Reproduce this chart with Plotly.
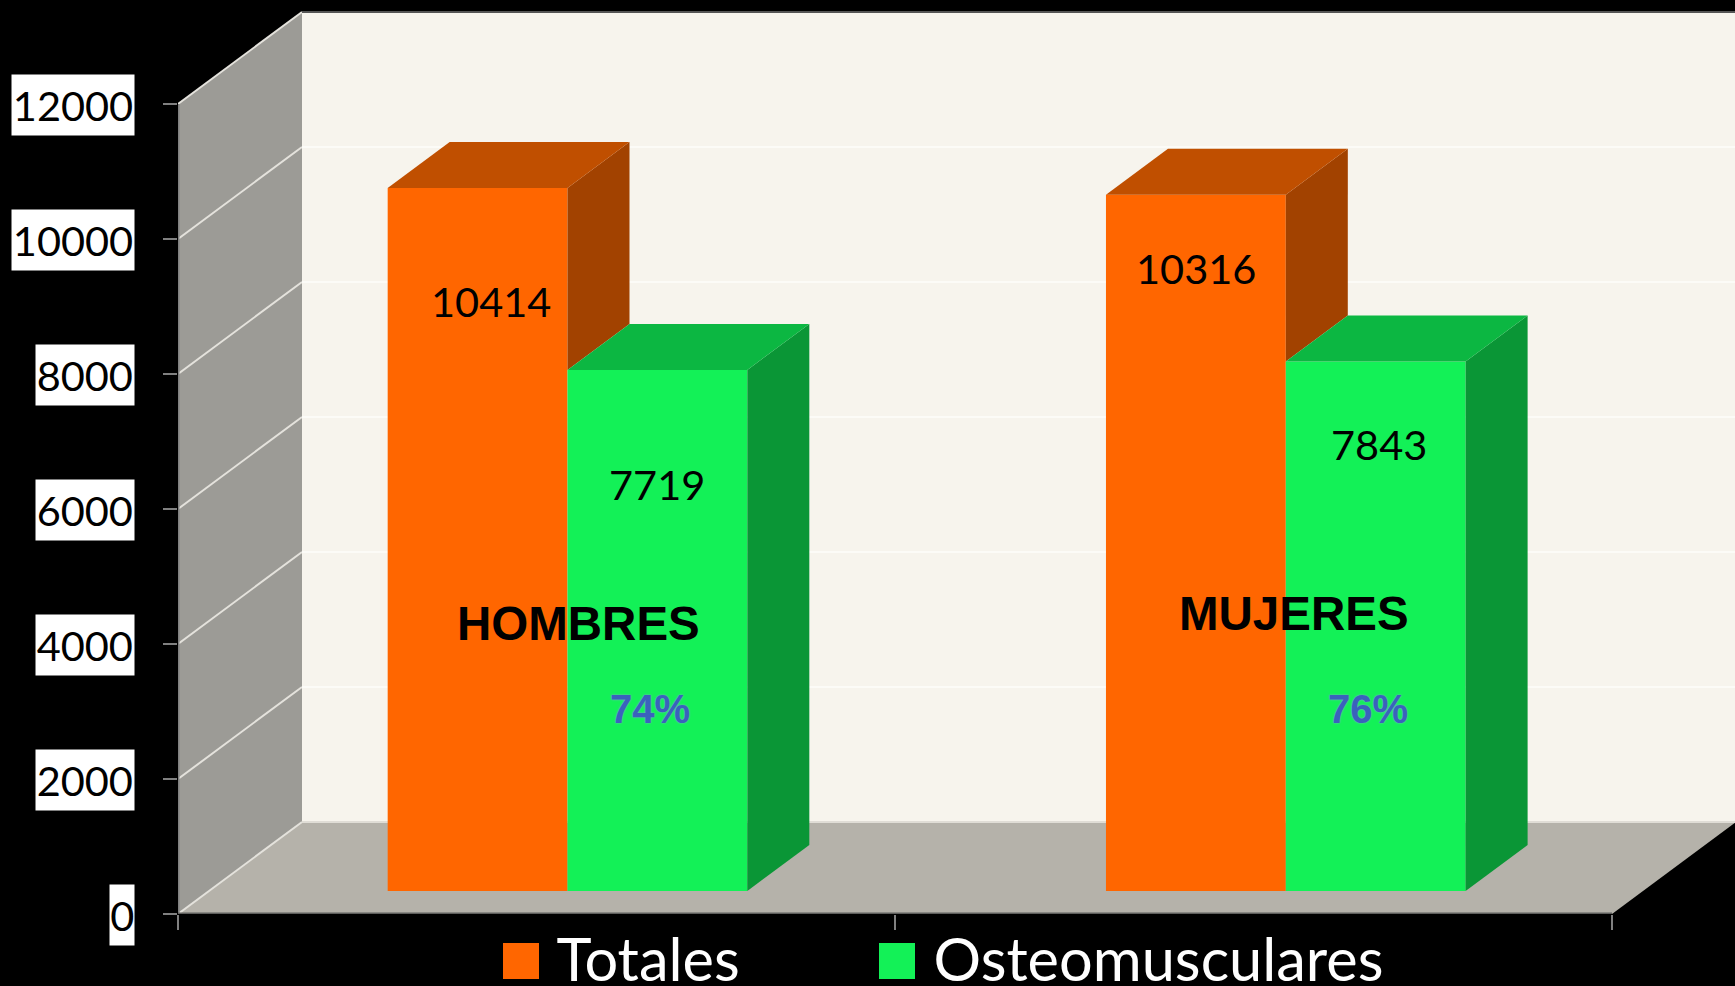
import plotly.graph_objects as go

# ---- data ----
categories = ["HOMBRES", "MUJERES"]
percentages = ["74%", "76%"]
series_names = ["Totales", "Osteomusculares"]
totales = [10414, 10316]
osteomusculares = [7719, 7843]
y_ticks = [0, 2000, 4000, 6000, 8000, 10000, 12000]

# ---- style / layout ----
W, H = 1735, 986
M_L, M_R, M_T, M_B = 178, 0, 11, 72
PX_PER_CAT = 717.0
PX_PER_VAL = 0.0675
X_MAX = (W - M_L - M_R) / PX_PER_CAT
Y_MAX = (H - M_T - M_B) / PX_PER_VAL
DEPTH_X = 124 / PX_PER_CAT
DEPTH_Y = 92 / PX_PER_VAL
BAR_W = 0.2508
GROUP_NUDGE = [0.0, 0.0018]
D0, D1 = 0.25, 0.75

BG = "#000000"
WALL_BACK = "#f7f4ed"
WALL_SIDE = "#9c9b96"
FLOOR = "#b5b2aa"
GRID_BACK = "#fcfbf7"
GRID_SIDE = "#e4e2dc"
AXIS = "#808080"
colors_front = ["#ff6600", "#13f157"]
colors_top = ["#c04f00", "#0cb742"]
colors_side = ["#a24200", "#0a9636"]

FONT = "Lato"
BOLD = "Liberation Sans"


def proj(x, v, d):
    return x + d * DEPTH_X, v + d * DEPTH_Y


def path(points):
    return "M " + " L ".join(f"{x},{y}" for x, y in points) + " Z"


def face(points, color):
    xs = [p[0] for p in points] + [points[0][0]]
    ys = [p[1] for p in points] + [points[0][1]]
    return go.Scatter(x=xs, y=ys, mode="lines", fill="toself", fillcolor=color,
                      line=dict(width=0, color=color), hoverinfo="skip", showlegend=False)


def bar_left(i, s):
    return i + 0.5 + GROUP_NUDGE[i] - BAR_W + s * BAR_W


n_cat = len(categories)
top_val = y_ticks[-1]
shapes = []
# room: back wall, side wall, floor
shapes.append(dict(type="path", layer="below", xref="x", yref="y", line=dict(width=0), fillcolor=WALL_BACK,
                   path=path([proj(0, 0, 1), proj(n_cat, 0, 1), proj(n_cat, top_val, 1), proj(0, top_val, 1)])))
shapes.append(dict(type="path", layer="below", xref="x", yref="y", line=dict(width=0), fillcolor=WALL_SIDE,
                   path=path([proj(0, 0, 0), proj(0, 0, 1), proj(0, top_val, 1), proj(0, top_val, 0)])))
shapes.append(dict(type="path", layer="below", xref="x", yref="y", line=dict(width=0), fillcolor=FLOOR,
                   path=path([proj(0, 0, 0), proj(n_cat, 0, 0), proj(n_cat, 0, 1), proj(0, 0, 1)])))
# gridlines
for t in y_ticks:
    x0, y0 = proj(0, t, 0)
    x1, y1 = proj(0, t, 1)
    shapes.append(dict(type="line", layer="below", xref="x", yref="y", x0=x0, y0=y0, x1=x1, y1=y1,
                       line=dict(color=GRID_SIDE, width=2)))
    x2, y2 = proj(n_cat, t, 1)
    if t == top_val:
        back = "#555555"
    elif t == 0:
        back = "#e0ddd6"
    else:
        back = GRID_BACK
    shapes.append(dict(type="line", layer="below", xref="x", yref="y", x0=x1, y0=y1, x1=x2, y1=y2,
                       line=dict(color=back, width=2)))
# axis lines along the front of the room
shapes.append(dict(type="line", layer="below", xref="x", yref="y", x0=0, y0=0, x1=0, y1=top_val,
                   line=dict(color=AXIS, width=3)))
shapes.append(dict(type="line", layer="below", xref="x", yref="y", x0=0, y0=0, x1=n_cat, y1=0,
                   line=dict(color="#5e5e5c", width=3)))

fig = go.Figure()
series = [totales, osteomusculares]
base_x, base_y = proj(0, 0, D0)

# front faces: real bars standing on the floor
for s, (name, vals) in enumerate(zip(series_names, series)):
    centers = [bar_left(i, s) + BAR_W / 2 + base_x for i in range(n_cat)]
    fig.add_trace(go.Bar(x=centers, y=vals, base=base_y, width=BAR_W, name=name,
                         marker=dict(color=colors_front[s], line=dict(width=0)), showlegend=False))

# top and side faces
for i in range(n_cat):
    for s, vals in enumerate(series):
        xr = bar_left(i, s) + BAR_W
        v = vals[i]
        # the lower edge of a side face stops where the neighbouring bar hides it
        low = series[s + 1][i] if s + 1 < len(series) else 0
        fig.add_trace(face([proj(xr, v, D0), proj(xr, v, D1), proj(xr, low, D1), proj(xr, low, D0)], colors_side[s]))
    for s, vals in enumerate(series):
        xl = bar_left(i, s)
        xr = xl + BAR_W
        v = vals[i]
        fig.add_trace(face([proj(xl, v, D0), proj(xr, v, D0), proj(xr, v, D1), proj(xl, v, D1)], colors_top[s]))

annotations = []
# y tick labels on white boxes
for t in y_ticks:
    label = str(t)
    annotations.append(dict(x=0, y=t, xref="x", yref="y", text=label, showarrow=False, xanchor="right",
                            xshift=-43, yshift=-1, bgcolor="#ffffff", height=60, width=24.4 * len(label),
                            valign="middle", align="center", borderpad=0,
                            font=dict(family=FONT, size=41.5, color="#000000")))

# value labels (hand placed in the original, shift from the bar top)
label_shift_x = [[13, 0], [0, 3]]
label_shift_y = [[-113, -114], [-73, -82]]
for i in range(n_cat):
    for s, vals in enumerate(series):
        xc = bar_left(i, s) + BAR_W / 2 + base_x
        annotations.append(dict(x=xc, y=vals[i] + base_y, xref="x", yref="y", text=str(vals[i]), showarrow=False,
                                xshift=label_shift_x[i][s], yshift=label_shift_y[i][s],
                                font=dict(family=FONT, size=41.5, color="#000000")))

# group and percentage labels
cat_x = [0.558, 1.557]
cat_y = [4311, 4459]
pct_x = [0.658, 1.66]
pct_y = [3040, 3040]
for i in range(n_cat):
    annotations.append(dict(x=cat_x[i], y=cat_y[i], xref="x", yref="y", text=f"<b>{categories[i]}</b>", showarrow=False,
                            font=dict(family=BOLD, size=47.5, color="#000000")))
    annotations.append(dict(x=pct_x[i], y=pct_y[i], xref="x", yref="y", text=f"<b>{percentages[i]}</b>", showarrow=False,
                            font=dict(family=BOLD, size=40, color="#3a62bc", shadow="0 0 2px #88a4e4")))

# legend: a page-sized invisible subplot over the chart, in page pixels
leg_box_x = [521, 897]
leg_box_y = 961
leg_text_x = [556.5, 933.5]
leg_text_y = 966.5
for s, name in enumerate(series_names):
    fig.add_trace(go.Scatter(x=[leg_box_x[s]], y=[leg_box_y], xaxis="x2", yaxis="y2", mode="markers",
                             showlegend=False, hoverinfo="skip",
                             marker=dict(symbol="square", size=36, color=colors_front[s], line=dict(width=0))))
    fig.add_trace(go.Scatter(x=[leg_text_x[s]], y=[leg_text_y], xaxis="x2", yaxis="y2", mode="text", text=[name],
                             textposition="middle right", cliponaxis=False, showlegend=False, hoverinfo="skip",
                             textfont=dict(family=FONT, size=59.5, color="#ffffff")))

fig.update_layout(
    width=W, height=H, autosize=False,
    margin=dict(l=0, r=0, t=0, b=0, pad=0),
    paper_bgcolor=BG, plot_bgcolor="rgba(0,0,0,0)",
    barmode="overlay", showlegend=False, hovermode=False,
    shapes=shapes, annotations=annotations,
    xaxis=dict(domain=[M_L / W, 1 - M_R / W], range=[0, X_MAX], tickvals=list(range(n_cat + 1)), ticks="outside", ticklen=15,
               tickcolor=AXIS, tickwidth=2, showticklabels=False, showgrid=False, zeroline=False, showline=False, automargin=False),
    yaxis=dict(domain=[M_B / H, 1 - M_T / H], range=[0, Y_MAX], tickvals=y_ticks, ticks="outside", ticklen=14,
               tickcolor=AXIS, tickwidth=2, showticklabels=False, showgrid=False, zeroline=False, showline=False, automargin=False),
    xaxis2=dict(domain=[0, 1], range=[0, W], visible=False, anchor="y2"),
    yaxis2=dict(domain=[0, 1], range=[H, 0], visible=False, anchor="x2"),
)

fig.write_html("out.html", config=dict(displayModeBar=False),
               post_script="document.body.style.margin='0';document.body.style.background='#000';")
